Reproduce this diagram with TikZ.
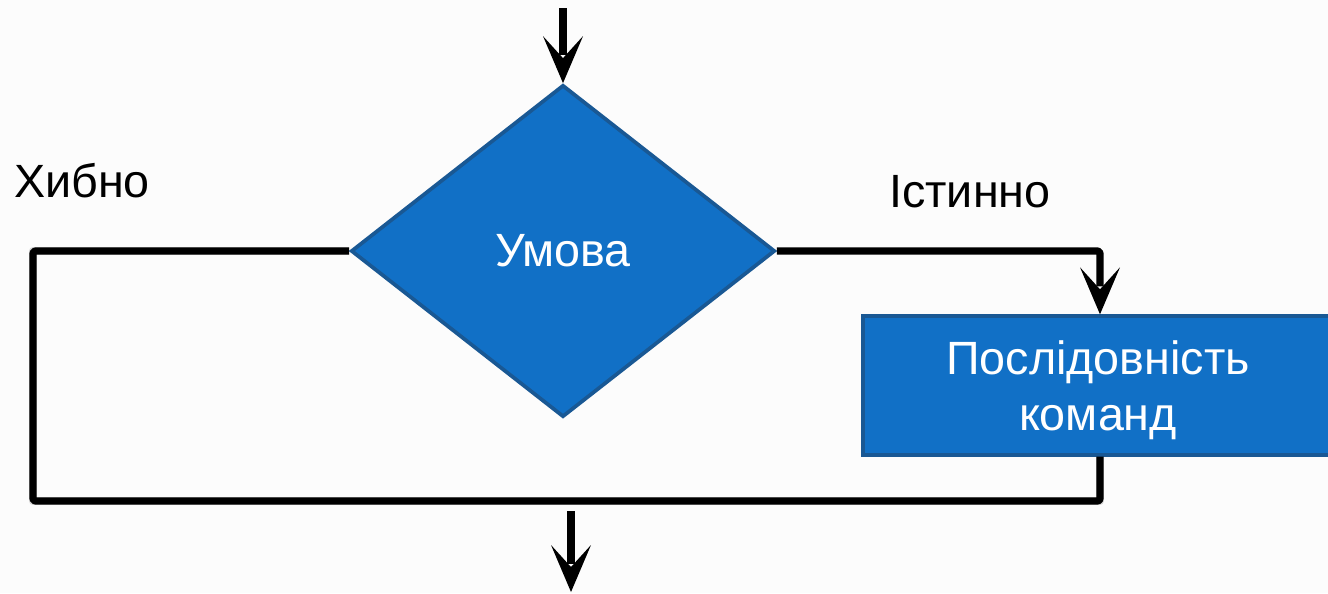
\documentclass[tikz,border=0pt]{standalone}
\usepackage{fontspec}
\setmainfont{Liberation Sans}
\usetikzlibrary{shapes.geometric,calc}

\definecolor{flowblue}{HTML}{1170C6}
\definecolor{flowedge}{HTML}{195894}
\definecolor{pagebg}{HTML}{FCFCFC}

\tikzset{
  big/.style={font=\fontsize{35}{42}\selectfont},
  decision/.style={diamond, fill=flowblue, draw=flowedge, line width=2.8pt,
    minimum width=318pt, minimum height=249pt, inner sep=0pt,
    text=white, big},
  process/.style={rectangle, fill=flowblue, draw=flowedge, line width=2.8pt,
    minimum width=352pt, minimum height=104pt, inner sep=0pt,
    text=white, align=center, text depth=0pt, big},
  flow/.style={line width=5.5pt, black, line join=round},
  softshadow/.style={line width=6pt, black, opacity=0.15, line join=round},
  caption/.style={big, text=black, inner sep=0pt},
  % barbed arrow head pointing down, its tip at the pic origin
  headdown/.pic={
    \fill[black] (0,0) -- (20,-47) -- (0,-25) -- (-20,-47) -- cycle;
  }
}

\begin{document}
\begin{tikzpicture}[x=0.75pt, y=-0.75pt]
  % page
  \fill[pagebg] (0,0) rectangle (1328,593);
  \useasboundingbox (0,0) rectangle (1328,593);
  \clip (0,0) rectangle (1328,593);

  % fixed points of the connectors
  \coordinate (top)  at (563,8);
  \coordinate (rc)   at (1100,251);
  \coordinate (bl)   at (33,501);
  \coordinate (outs) at (571,511);
  \coordinate (oute) at (571,592);

  % decision and process blocks
  \node[decision] (cond) at (563,251) {Умова};
  \node[process]  (body) at (1098,385.5) {Послідовність\\команд};

  % branch labels
  \node[caption, anchor=base west] (no)  at (14,197)  {Хибно};
  \node[caption, anchor=base west] (yes) at (889,207) {Істинно};

  % soft shadow of the loop line
  \begin{scope}[shift={(2,3)}]
    \draw[softshadow] (cond.west) -| (bl) -| (body.south -| rc);
  \end{scope}

  % entry arrow
  \draw[flow] (top) -- ($(cond.north)+(0,-28)$);
  \pic at (cond.north) {headdown};

  % true branch into the command block
  \draw[flow, rounded corners=2pt] (cond.east) -| ($(body.north -| rc)+(0,-28)$);
  \pic at (body.north -| rc) {headdown};

  % false branch and return from the command block
  \draw[flow, rounded corners=2pt] (cond.west) -| (bl) -| (body.south -| rc);

  % exit arrow
  \draw[flow] (outs) -- ($(oute)+(0,-28)$);
  \pic at (oute) {headdown};
\end{tikzpicture}
\end{document}
